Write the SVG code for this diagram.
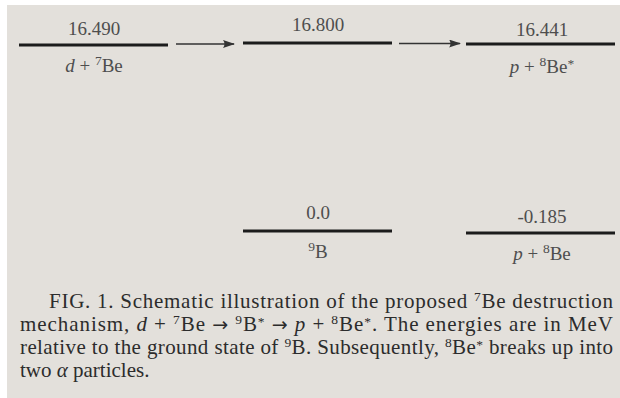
<svg xmlns="http://www.w3.org/2000/svg" width="620" height="398" viewBox="0 0 620 398">
<style>
.lvl{stroke:#1c1c1c;stroke-width:3;fill:none}
.arr{stroke:#333;stroke-width:1.4;fill:none}
.lab{font-family:"Liberation Serif","DejaVu Serif",serif;font-size:19px;fill:#4e4e4e;text-anchor:middle}
.cap{font-family:"Liberation Serif","DejaVu Serif",serif;font-size:21px;fill:#2c2c2c}
.sup{font-size:13.5px}
.it{font-style:italic}
.ar{font-family:"DejaVu Sans",sans-serif;font-size:19px}
</style>
<defs>
<marker id="ah" viewBox="0 0 12 8" refX="11" refY="4" markerWidth="12" markerHeight="8" markerUnits="userSpaceOnUse" orient="auto">
<path d="M0,0 L12,4 L0,8 Q3,4 0,0 Z" fill="#333"/>
</marker>
</defs>
<rect x="0" y="0" width="620" height="398" fill="#ffffff"/>
<rect x="7" y="5" width="613" height="393" fill="#e3e0db"/>
<g id="level-d7Be">
<line class="lvl" x1="19" y1="45" x2="168" y2="45"/>
<text class="lab" x="94" y="35">16.490</text>
<text class="lab" x="94" y="72"><tspan class="it">d</tspan> + <tspan class="sup" dy="-7">7</tspan><tspan dy="7">Be</tspan></text>
</g>
<g id="level-9Bstar">
<line class="lvl" x1="243" y1="43" x2="392" y2="43"/>
<text class="lab" x="318" y="31">16.800</text>
</g>
<g id="level-p8BeStar">
<line class="lvl" x1="466" y1="44" x2="615" y2="44"/>
<text class="lab" x="542" y="36">16.441</text>
<text class="lab" x="542" y="73"><tspan class="it">p</tspan> + <tspan class="sup" dy="-7">8</tspan><tspan dy="7">Be</tspan><tspan class="sup" dy="-5">*</tspan></text>
</g>
<g id="level-9B">
<line class="lvl" x1="243" y1="231" x2="392" y2="231"/>
<text class="lab" x="318" y="219">0.0</text>
<text class="lab" x="318" y="258"><tspan class="sup" dy="-7">9</tspan><tspan dy="7">B</tspan></text>
</g>
<g id="level-p8Be">
<line class="lvl" x1="466" y1="233" x2="615" y2="233"/>
<text class="lab" x="542" y="223">-0.185</text>
<text class="lab" x="542" y="260"><tspan class="it">p</tspan> + <tspan class="sup" dy="-7">8</tspan><tspan dy="7">Be</tspan></text>
</g>
<g id="connectors">
<line class="arr" x1="176" y1="44" x2="234" y2="44" marker-end="url(#ah)"/>
<line class="arr" x1="399" y1="43.5" x2="460" y2="43.5" marker-end="url(#ah)"/>
</g>
<g id="caption">
<text class="cap" x="49" y="308" textLength="564" lengthAdjust="spacing">FIG. 1. Schematic illustration of the proposed <tspan class="sup" dy="-7">7</tspan><tspan dy="7">Be destruction</tspan></text>
<text class="cap" x="20" y="331" textLength="593" lengthAdjust="spacing">mechanism, <tspan class="it">d</tspan> + <tspan class="sup" dy="-7">7</tspan><tspan dy="7">Be </tspan><tspan class="ar">→</tspan> <tspan class="sup" dy="-7">9</tspan><tspan dy="7">B</tspan><tspan class="sup" dy="-5">*</tspan><tspan dy="5"> </tspan><tspan class="ar">→</tspan> <tspan class="it">p</tspan> + <tspan class="sup" dy="-7">8</tspan><tspan dy="7">Be</tspan><tspan class="sup" dy="-5">*</tspan><tspan dy="5">. The energies are in MeV</tspan></text>
<text class="cap" x="20" y="354" textLength="593" lengthAdjust="spacing">relative to the ground state of <tspan class="sup" dy="-7">9</tspan><tspan dy="7">B. Subsequently, </tspan><tspan class="sup" dy="-7">8</tspan><tspan dy="7">Be</tspan><tspan class="sup" dy="-5">*</tspan><tspan dy="5"> breaks up into</tspan></text>
<text class="cap" x="20" y="377">two <tspan class="it">α</tspan> particles.</text>
</g>
</svg>
